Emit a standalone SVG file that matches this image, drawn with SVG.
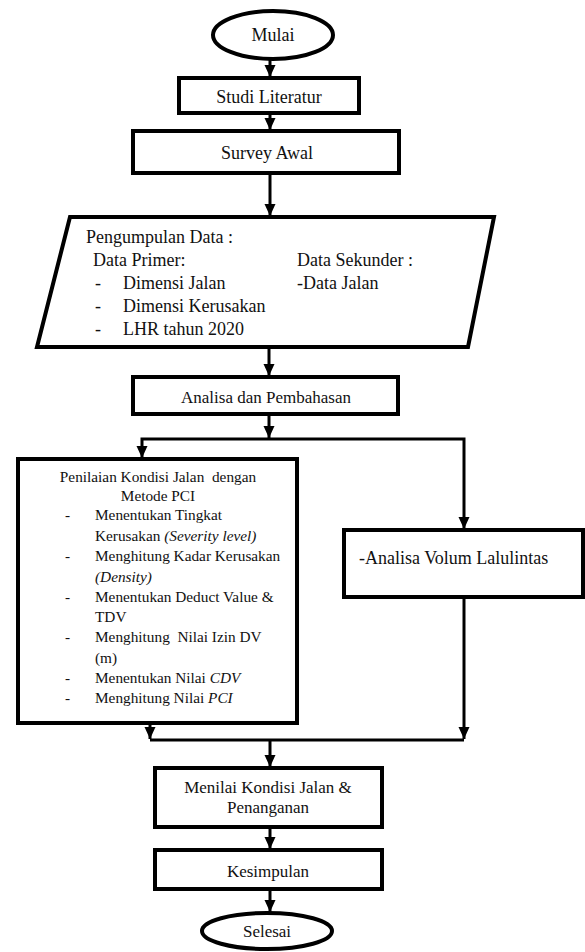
<svg xmlns="http://www.w3.org/2000/svg" width="585" height="952" viewBox="0 0 585 952">
<style>
.box{fill:#fff;stroke:#000;stroke-width:4}
.conn{fill:none;stroke:#000;stroke-width:3}
text{white-space:pre;fill:#111}
.c{text-anchor:middle}
.t18{font-size:18px}
.t17{font-size:17px}
.t15{font-size:15.3px}
.it{font-style:italic}
</style>
<defs>
<marker id="ah" markerUnits="userSpaceOnUse" markerWidth="12" markerHeight="12" refX="12" refY="6" orient="auto">
<path d="M0,0.5 L12,6 L0,11.5 z" fill="#000"/>
</marker>
</defs>
<rect width="585" height="952" fill="#fff"/>
<g id="connectors">
<path class="conn" d="M270,60 V77" marker-end="url(#ah)"/>
<path class="conn" d="M270,115 V130" marker-end="url(#ah)"/>
<path class="conn" d="M270,175 V216" marker-end="url(#ah)"/>
<path class="conn" d="M269,349 V376" marker-end="url(#ah)"/>
<path class="conn" d="M269,416 V438" marker-end="url(#ah)"/>
<path class="conn" d="M269,439 H142 V458" marker-end="url(#ah)"/>
<path class="conn" d="M269,439 H464 V529" marker-end="url(#ah)"/>
<path class="conn" d="M150,725 V739" marker-end="url(#ah)"/>
<path class="conn" d="M464,599 V739" marker-end="url(#ah)"/>
<path class="conn" d="M150,740 H464"/>
<path class="conn" d="M270,740 V767" marker-end="url(#ah)"/>
<path class="conn" d="M270,829 V849" marker-end="url(#ah)"/>
<path class="conn" d="M270,891 V912" marker-end="url(#ah)"/>
</g>
<g font-family="'Liberation Serif', 'Times New Roman', serif">
<g id="mulai">
<ellipse class="box" cx="273" cy="35" rx="60" ry="24"/>
<text class="c t18" x="273" y="41">Mulai</text>
</g>
<g id="studi">
<rect class="box" x="179" y="78" width="180" height="35"/>
<text class="c t18" x="269" y="103">Studi Literatur</text>
</g>
<g id="survey">
<rect class="box" x="133" y="131" width="266" height="42"/>
<text class="c t18" x="267" y="159">Survey Awal</text>
</g>
<g id="pengumpulan">
<polygon class="box" points="70,217 494,217 468,347 37,347"/>
<text class="t18" x="86" y="243">Pengumpulan Data :</text>
<text class="t18" x="93" y="266">Data Primer:</text>
<text class="t18" x="297" y="266">Data Sekunder :</text>
<text class="t18" x="95" y="289">-</text>
<text class="t18" x="123" y="289">Dimensi Jalan</text>
<text class="t18" x="297" y="289">-Data Jalan</text>
<text class="t18" x="95" y="312">-</text>
<text class="t18" x="123" y="312">Dimensi Kerusakan</text>
<text class="t18" x="95" y="335">-</text>
<text class="t18" x="123" y="335">LHR tahun 2020</text>
</g>
<g id="analisa">
<rect class="box" x="133" y="377" width="265" height="37"/>
<text class="c t17" x="266" y="403">Analisa dan Pembahasan</text>
</g>
<g id="pci">
<rect class="box" x="18" y="459" width="279" height="264"/>
<text class="c t15" x="158" y="482">Penilaian Kondisi Jalan  dengan</text>
<text class="c t15" x="158" y="501">Metode PCI</text>
<text class="t15" x="65" y="520">-</text>
<text class="t15" x="95" y="520">Menentukan Tingkat</text>
<text class="t15" x="95" y="541">Kerusakan <tspan class="it">(Severity level)</tspan></text>
<text class="t15" x="65" y="561">-</text>
<text class="t15" x="95" y="561">Menghitung Kadar Kerusakan</text>
<text class="t15 it" x="95" y="582">(Density)</text>
<text class="t15" x="65" y="602">-</text>
<text class="t15" x="95" y="602">Menentukan Deduct Value &amp;</text>
<text class="t15" x="95" y="622">TDV</text>
<text class="t15" x="65" y="642">-</text>
<text class="t15" x="95" y="642">Menghitung  Nilai Izin DV</text>
<text class="t15" x="95" y="663">(m)</text>
<text class="t15" x="65" y="683">-</text>
<text class="t15" x="95" y="683">Menentukan Nilai <tspan class="it">CDV</tspan></text>
<text class="t15" x="65" y="703">-</text>
<text class="t15" x="95" y="703">Menghitung Nilai <tspan class="it">PCI</tspan></text>
</g>
<g id="volum">
<rect class="box" x="344" y="530" width="239" height="67"/>
<text class="t18" x="359" y="564">-Analisa Volum Lalulintas</text>
</g>
<g id="menilai">
<rect class="box" x="155" y="768" width="227" height="59"/>
<text class="c t17" x="268" y="793">Menilai Kondisi Jalan &amp;</text>
<text class="c t17" x="268" y="813">Penanganan</text>
</g>
<g id="kesimpulan">
<rect class="box" x="155" y="850" width="227" height="39"/>
<text class="c t17" x="268" y="877">Kesimpulan</text>
</g>
<g id="selesai">
<ellipse class="box" cx="267" cy="931" rx="65" ry="18"/>
<text class="c t17" x="267" y="937">Selesai</text>
</g>
</g>
</svg>
